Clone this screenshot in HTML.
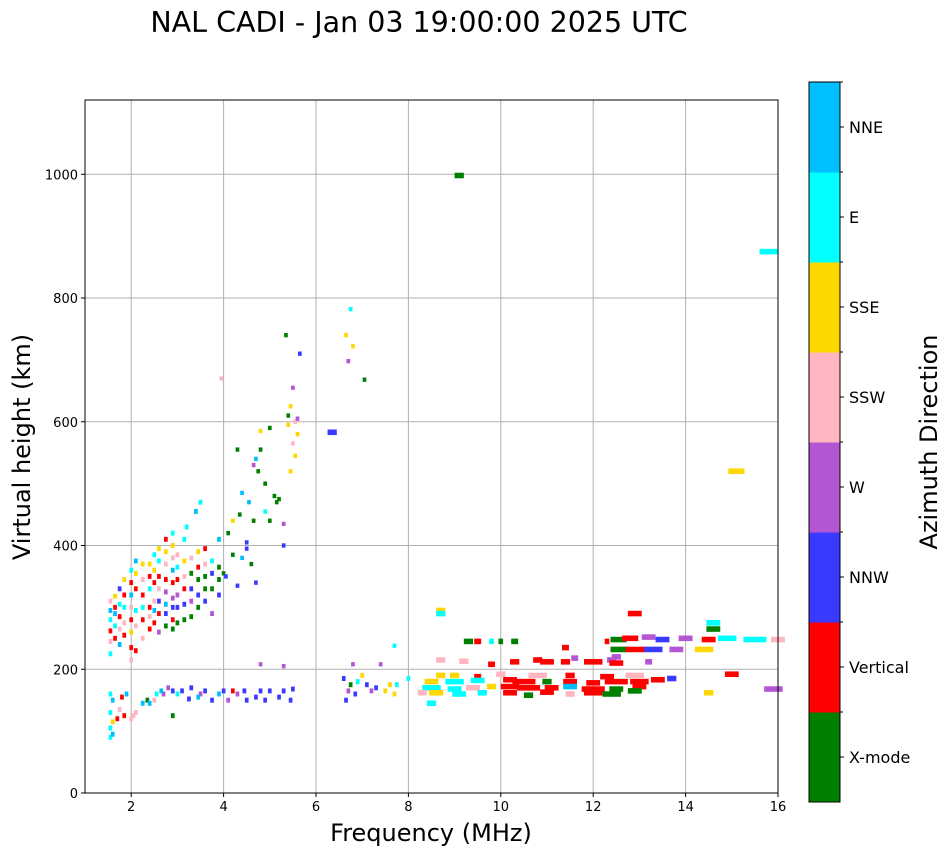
<!DOCTYPE html>
<html><head><meta charset="utf-8"><style>
body{margin:0;background:#fff;font-family:"DejaVu Sans","Liberation Sans",sans-serif}
</style></head><body>
<svg id="chart" width="951" height="856" xmlns="http://www.w3.org/2000/svg" font-family="DejaVu Sans, Liberation Sans, sans-serif">
<text x="419" y="32" font-size="28.5" text-anchor="middle">NAL CADI - Jan 03 19:00:00 2025 UTC</text>
<g id="grid"></g><g id="marks"></g><g id="axes"></g><g id="cbar"></g>
<text x="431" y="841" font-size="24" text-anchor="middle">Frequency (MHz)</text>
<text transform="translate(30,447) rotate(-90)" font-size="24" text-anchor="middle">Virtual height (km)</text>
<text transform="translate(937,442) rotate(-90)" font-size="24" text-anchor="middle">Azimuth Direction</text>
</svg>
<script>
const dirNames=["X-mode","Vertical","NNW","W","SSW","SSE","E","NNE"];
const dirColors=["#008000","#ff0000","#3a3aff","#b455d4","#ffb6c1","#ffd700","#00ffff","#00bfff"];
const xTicks=[2,4,6,8,10,12,14,16];
const yTicks=[0,200,400,600,800,1000];
// F-region cluster (low freq)
const fF=[1.55,1.55,1.55,1.55,1.55,1.55,1.65,1.65,1.65,1.65,1.65,1.75,1.75,1.75,1.75,1.75,1.85,1.85,1.85,1.85,1.85,2.0,2.0,2.0,2.0,2.0,2.0,2.0,2.0,2.1,2.1,2.1,2.1,2.1,2.1,2.25,2.25,2.25,2.25,2.25,2.25,2.4,2.4,2.4,2.4,2.4,2.4,2.5,2.5,2.5,2.5,2.5,2.5,2.6,2.6,2.6,2.6,2.6,2.6,2.6,2.75,2.75,2.75,2.75,2.75,2.75,2.75,2.75,2.9,2.9,2.9,2.9,2.9,2.9,2.9,2.9,3.0,3.0,3.0,3.0,3.0,3.0,3.15,3.15,3.15,3.15,3.15,3.3,3.3,3.3,3.3,3.3,3.45,3.45,3.45,3.45,3.45,3.6,3.6,3.6,3.6,3.6,3.75,3.75,3.75,3.75,3.9,3.9,3.9,3.9,3.2,3.15,3.5,3.4,2.9];
const hF=[225,245,262,280,295,310,250,270,290,300,318,240,265,285,305,330,255,275,300,320,345,215,235,260,280,300,320,340,360,230,270,295,330,355,375,250,280,300,320,345,370,265,285,300,330,350,370,275,295,310,340,360,385,260,290,310,330,350,375,395,270,290,305,325,345,370,390,410,265,280,300,315,340,360,380,400,275,300,320,345,365,385,280,305,330,350,375,285,310,330,355,380,300,320,345,365,390,310,330,350,370,395,290,330,355,375,320,345,365,410,430,410,470,455,420];
const dF=[6,4,1,6,7,4,1,6,7,1,5,7,4,1,6,2,1,4,6,1,5,4,1,5,1,4,7,1,6,1,4,6,1,5,7,4,1,6,1,4,5,1,4,1,6,1,5,1,7,4,1,5,6,3,1,2,4,1,6,5,0,2,7,3,1,4,5,1,0,1,2,3,1,7,4,5,0,2,3,1,6,4,0,2,1,4,5,0,3,2,0,4,0,2,0,1,5,2,0,0,4,1,3,0,2,6,2,0,0,7,6,6,6,7,6];
// upper trace and scattered points
const fU=[4.0,4.05,4.1,4.2,4.3,4.35,4.4,4.5,4.5,4.6,4.7,4.2,4.3,4.4,4.55,4.7,4.75,4.8,4.9,4.9,5.0,5.1,5.15,5.0,4.65,4.65,5.3,5.3,5.2,5.4,5.45,5.5,5.55,5.6,5.55,5.5,5.45,5.35,5.65,5.6,3.95,5.3,4.8,4.8,5.4,6.65,6.7,6.75,6.8,7.05,7.7,7.4,6.8];
const hU=[355,350,420,385,335,450,380,405,395,370,340,440,555,485,470,540,520,585,500,455,440,480,470,590,440,530,400,435,475,610,520,565,600,580,545,655,625,740,710,605,670,205,208,555,595,740,698,782,722,668,238,208,208];
const dU=[0,2,0,0,2,0,7,2,2,0,2,5,0,7,7,7,0,5,0,6,0,0,0,0,0,3,2,3,0,0,5,4,4,5,5,3,5,0,2,3,4,3,3,0,5,5,3,6,5,0,6,3,3];
// E-region low freq
const fE=[1.55,1.6,1.55,1.6,1.55,1.6,1.55,1.7,1.75,1.8,1.85,1.9,2.0,2.05,2.1,2.25,2.35,2.5,2.7,2.9,2.65,2.8,2.9,3.1,3.3,3.5,3.6,3.75,3.9,4.0,4.1,4.2,4.3,4.45,4.5,4.7,4.8,4.9,5.0,5.2,5.3,5.45,5.5,3.25,3.45,2.4,2.55,3.0,6.6,6.65,6.7,6.75,6.85,6.9,7.0,7.1,7.2,7.3,7.5,7.6,7.7,7.75,8.0];
const hE=[90,95,105,115,130,150,160,120,135,155,125,160,120,125,130,145,150,150,160,125,165,170,165,165,170,160,165,150,160,165,150,165,160,165,150,155,165,150,165,155,165,150,168,152,155,145,160,160,185,150,165,175,160,180,190,175,165,170,165,175,160,175,185];
const dE=[6,7,6,5,6,7,6,1,4,1,1,7,4,4,4,7,0,4,3,0,7,3,2,2,2,3,2,2,7,2,3,1,3,2,2,2,2,2,2,2,2,2,2,2,7,7,6,6,2,2,3,0,2,6,5,2,3,2,5,5,5,6,6];
// high-frequency band (with frequency span in MHz)
const fH=[8.7,9.0,9.5,10.0,10.8,11.5,12.3,12.9,8.5,9.0,9.5,10.2,10.5,11.0,11.5,12.0,12.5,13.0,13.4,8.5,9.0,9.4,9.8,10.2,10.6,11.1,11.5,12.0,12.5,13.0,8.6,9.1,9.6,10.2,10.6,11.0,11.5,12.0,12.4,12.9,9.8,10.3,10.8,11.0,11.4,11.6,12.0,12.4,13.2,8.7,8.7,9.3,9.5,9.8,10.0,10.3,11.4,12.3,12.55,12.8,13.2,13.5,14.0,14.5,14.9,15.5,16.0,12.55,12.9,13.3,13.8,14.4,14.6,14.6,12.9,12.5,12.5,13.7,15.0,14.5,15.9,15.1,15.8,9.1,6.35,8.7,9.2,8.5,8.3];
const hH=[190,190,188,192,190,190,188,190,180,180,182,183,180,180,180,178,180,180,183,170,168,170,172,172,170,170,172,168,168,172,162,160,162,162,158,163,160,162,160,165,208,212,215,212,212,218,212,215,212,295,290,245,245,245,245,245,235,245,248,250,252,248,250,248,250,248,248,232,232,232,232,232,275,265,290,210,220,185,192,162,168,520,875,998,583,215,213,145,162];
const dH=[5,5,1,4,4,1,1,4,5,6,6,1,1,0,1,1,1,1,1,6,6,4,5,1,1,1,7,1,0,1,5,6,6,1,0,1,4,1,0,0,1,1,1,1,1,3,1,3,3,5,6,0,1,6,0,0,1,1,0,1,3,2,3,1,6,6,4,0,1,2,3,5,6,0,1,1,3,2,1,5,3,5,6,0,2,4,4,6,4];
const sH=[.2,.2,.15,.2,.4,.2,.3,.4,.3,.4,.3,.3,.5,.2,.3,.3,.5,.4,.3,.4,.3,.3,.2,.4,.5,.3,.3,.5,.3,.3,.3,.3,.2,.3,.2,.3,.2,.4,.4,.3,.15,.2,.2,.3,.2,.15,.4,.2,.15,.2,.2,.2,.15,.1,.1,.15,.15,.1,.35,.35,.3,.3,.3,.3,.4,.5,.3,.35,.4,.4,.3,.4,.3,.3,.3,.3,.2,.2,.3,.2,.4,.35,.4,.2,.2,.2,.2,.2,.2];

const X0=85,X1=778,Y0=793,Y1=100,XMIN=1,XMAX=16,YMIN=0,YMAX=1120;
const xs=v=>X0+(v-XMIN)/(XMAX-XMIN)*(X1-X0);
const ys=v=>Y0-(v-YMIN)/(YMAX-YMIN)*(Y0-Y1);
const NS="http://www.w3.org/2000/svg";
function mk(tag,attrs,parent){const e=document.createElementNS(NS,tag);for(const k in attrs)e.setAttribute(k,attrs[k]);parent.appendChild(e);return e;}
const grid=document.getElementById('grid'),marks=document.getElementById('marks'),axes=document.getElementById('axes'),cbar=document.getElementById('cbar');
xTicks.forEach(t=>{const l=mk('line',{x1:xs(t),x2:xs(t),y1:Y1,y2:Y0,stroke:'#b0b0b0','stroke-width':1},grid);


mk('line',{x1:xs(t),x2:xs(t),y1:Y0,y2:Y0+4,stroke:'#000'},axes);
const tx=mk('text',{x:xs(t),y:Y0+18,'font-size':13,'text-anchor':'middle'},axes);tx.textContent=t;

});
yTicks.forEach(t=>{const l=mk('line',{x1:X0,x2:X1,y1:ys(t),y2:ys(t),stroke:'#b0b0b0','stroke-width':1},grid);


mk('line',{x1:X0-4,x2:X0,y1:ys(t),y2:ys(t),stroke:'#000'},axes);
const tx=mk('text',{x:X0-7,y:ys(t)+5,'font-size':13,'text-anchor':'end'},axes);tx.textContent=t;

});
const frame=mk('rect',{x:X0,y:Y1,width:X1-X0,height:Y0-Y1,fill:'none',stroke:'#000'},axes);


function draw(fa,ha,da,sa,defSpan,dh){
 const n=Math.min(fa.length,ha.length,da.length);
 for(let i=0;i<n;i++){const sp=sa?sa[i]:defSpan;
  const x=xs(fa[i]-sp/2),w=xs(fa[i]+sp/2)-x,y=ys(ha[i]+dh/2),h=ys(ha[i]-dh/2)-y;
  const r=mk('rect',{x:x,y:y,width:w,height:h,fill:dirColors[da[i]]},marks);
  
  }
}
draw(fF,hF,dF,null,0.08,8);
draw(fU,hU,dU,null,0.08,7);
draw(fE,hE,dE,null,0.08,8);
draw(fH,hH,dH,sH,0,9);
// colorbar
const CX=809,CW=31,CT=82,CB=802,seg=(CB-CT)/dirNames.length;
dirNames.forEach((n,i)=>{const y=CB-(i+1)*seg;
 const r=mk('rect',{x:CX,y:y,width:CW,height:seg+0.5,fill:dirColors[i]},cbar);
 
 
 mk('line',{x1:CX+CW,x2:CX+CW+4,y1:y+seg/2,y2:y+seg/2,stroke:'#000'},cbar);
 mk('line',{x1:CX+CW,x2:CX+CW+3,y1:y,y2:y,stroke:'#000'},cbar);
 const t=mk('text',{x:CX+CW+9,y:y+seg/2+6,'font-size':16},cbar);t.textContent=n;
 
 });
const cf=mk('rect',{x:CX,y:CT,width:CW,height:CB-CT,fill:'none',stroke:'#000'},cbar);


</script>
</body></html>
